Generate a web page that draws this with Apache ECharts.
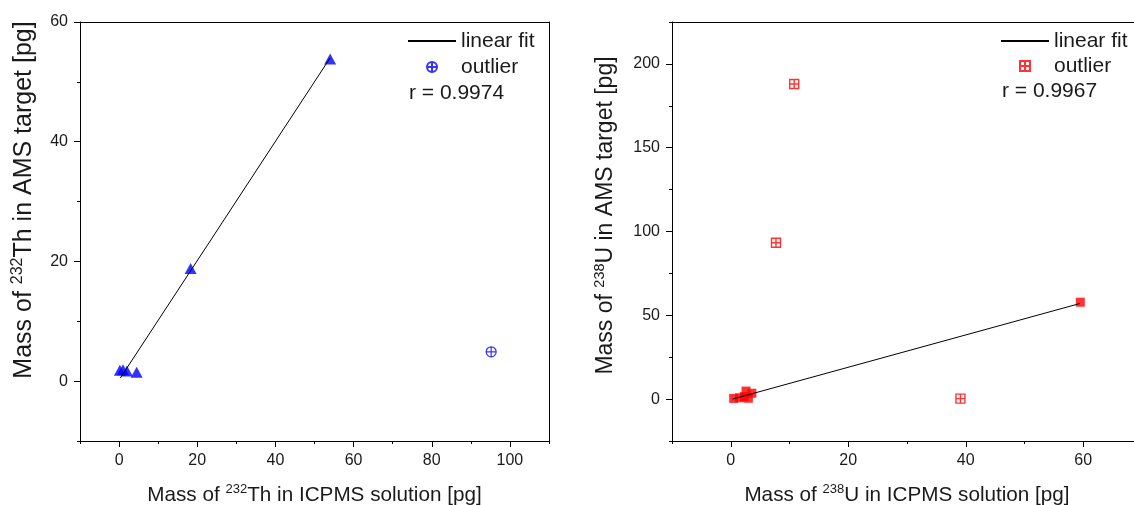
<!DOCTYPE html>
<html>
<head>
<meta charset="utf-8">
<script src="https://cdn.jsdelivr.net/npm/echarts@6/dist/echarts.min.js"></script>
<style>
html,body{margin:0;padding:0;background:#fff;}
#chart{width:1134px;height:505px;}
</style>
</head>
<body>
<div id="chart"></div>
<script>
// ---- Data: left panel (232Th) ----
var thData = [[0.2, 1.8], [1.0, 1.9], [2.0, 1.7], [4.5, 1.5], [18.3, 18.8], [54.0, 53.8]];
var thOutlier = [[95.2, 4.9]];
var thFit = [[0.3, 0.5], [54.0, 54.0]];
var thR = 'r = 0.9974';
// ---- Data: right panel (238U) ----
var uData = [[0.5, 0.4], [1.5, 0.8], [2.3, 1.5], [2.6, 4.8], [3.0, 0.5], [3.6, 3.5], [59.5, 57.8]];
var uOutlier = [[10.8, 188.0], [7.7, 93.3], [39.1, 0.3]];
var uFit = [[0.3, 0.0], [59.4, 57.0]];
var uR = 'r = 0.9967';
// ---- Tick values ----
var thXMajor = [0, 20, 40, 60, 80, 100];
var thXMinor = [-10, 10, 30, 50, 70, 90, 110];
var thYMajor = [0, 20, 40, 60];
var thYMinor = [-10, 10, 30, 50];
var uXMajor = [0, 20, 40, 60];
var uXMinor = [-10, 10, 30, 50, 70];
var uYMajor = [0, 50, 100, 150, 200];
var uYMinor = [-25, 25, 75, 125, 175, 225];

var FONT = '"Liberation Sans", Arial, sans-serif';
var TXT = '#1a1a1a';
var circleCross = 'path://M0,5 A5,5 0 1 1 10,5 A5,5 0 1 1 0,5 Z M5,0 L5,10 M0,5 L10,5';
var squareCross = 'path://M0,0 L10,0 L10,10 L0,10 Z M5,0 L5,10 M0,5 L10,5';

function makeRich(size, supSize) {
  return {
    a: {fontSize: size, fontFamily: FONT, color: TXT, lineHeight: Math.round(size * 1.17)},
    s: {fontSize: supSize, fontFamily: FONT, color: TXT, lineHeight: Math.round(supSize * 1.1), verticalAlign: 'top'}
  };
}

function majorAxis(grid, min, max, majors, pos, name, gap, rich, pad) {
  return {
    type: 'value', gridIndex: grid, min: min, max: max, position: pos,
    name: name, nameLocation: 'middle', nameGap: gap,
    nameTextStyle: {rich: rich, padding: pad || 0},
    axisLine: {show: true, onZero: false, lineStyle: {color: '#000', width: 1}},
    axisTick: {show: true, length: 6, customValues: majors, lineStyle: {color: '#000'}},
    axisLabel: {show: true, customValues: majors, fontSize: 16, fontFamily: FONT, color: TXT, margin: 12},
    splitLine: {show: false}
  };
}
function minorAxis(grid, min, max, minors, pos) {
  return {
    type: 'value', gridIndex: grid, min: min, max: max, position: pos,
    axisLine: {show: false, onZero: false},
    axisTick: {show: true, length: 3, customValues: minors, lineStyle: {color: '#000'}},
    axisLabel: {show: false},
    splitLine: {show: false}
  };
}
function frameAxis(grid, min, max, pos) {
  return {
    type: 'value', gridIndex: grid, min: min, max: max, position: pos,
    axisLine: {show: true, onZero: false, lineStyle: {color: '#000', width: 1}},
    axisTick: {show: false}, axisLabel: {show: false}, splitLine: {show: false}
  };
}

var legendText = {fontSize: 21, fontFamily: FONT, color: TXT, lineHeight: 22};

var option = {
  animation: false,
  backgroundColor: '#fff',
  grid: [
    {left: 80, right: 585, top: 22, bottom: 64, outerBoundsMode: 'none', containLabel: false},
    {left: 672, right: -8, top: 22, bottom: 64, outerBoundsMode: 'none', containLabel: false}
  ],
  xAxis: [
    majorAxis(0, -10, 110, thXMajor, 'bottom', '{a|Mass of }{s|232}{a|Th in ICPMS solution [pg]}', 42, makeRich(20.7, 13)),
    minorAxis(0, -10, 110, thXMinor, 'bottom'),
    frameAxis(0, -10, 110, 'top'),
    majorAxis(1, -10, 70, uXMajor, 'bottom', '{a|Mass of }{s|238}{a|U in ICPMS solution [pg]}', 42, makeRich(20.7, 13)),
    minorAxis(1, -10, 70, uXMinor, 'bottom'),
    frameAxis(1, -10, 70, 'top')
  ],
  yAxis: [
    majorAxis(0, -10, 60, thYMajor, 'left', '{a|Mass of }{s|232}{a|Th in AMS target [pg]}', 41, makeRich(25, 16), [0, 0, 0, 63]),
    minorAxis(0, -10, 60, thYMinor, 'left'),
    frameAxis(0, -10, 60, 'right'),
    majorAxis(1, -25, 225, uYMajor, 'left', '{a|Mass of }{s|238}{a|U in AMS target [pg]}', 53, makeRich(23, 14.5), [0, 0, 0, 32]),
    minorAxis(1, -25, 225, uYMinor, 'left'),
    frameAxis(1, -25, 225, 'right')
  ],
  legend: [
    {
      left: 407, top: 30, orient: 'vertical', padding: 0, itemGap: 4,
      itemWidth: 48, itemHeight: 10, selectedMode: false,
      data: [
        {name: 'linear fit', itemStyle: {color: 'rgba(0,0,0,0)', borderWidth: 0, opacity: 0}},
        'outlier'
      ],
      textStyle: legendText
    },
    {
      left: 1000, top: 30, orient: 'vertical', padding: 0, itemGap: 3,
      itemWidth: 48, itemHeight: 10, selectedMode: false,
      data: [
        {name: 'linear fit U', itemStyle: {color: 'rgba(0,0,0,0)', borderWidth: 0, opacity: 0}},
        'outlier U'
      ],
      formatter: function (n) { return n.replace(' U', ''); },
      textStyle: legendText
    }
  ],
  graphic: [
    {type: 'text', left: 409, top: 83, style: {text: thR, fontSize: 21, fontFamily: FONT, fill: TXT}},
    {type: 'text', left: 1002, top: 81, style: {text: uR, fontSize: 21, fontFamily: FONT, fill: TXT}}
  ],
  series: [
    {
      name: 'linear fit', type: 'line', xAxisIndex: 0, yAxisIndex: 0, data: thFit,
      symbol: 'none', color: '#000', lineStyle: {color: '#000', width: 1}, z: 3
    },
    {
      name: 'Th data', type: 'scatter', xAxisIndex: 0, yAxisIndex: 0, data: thData,
      symbol: 'triangle', symbolSize: [12, 11], itemStyle: {color: '#0000ff'}, z: 2
    },
    {
      name: 'outlier', type: 'scatter', xAxisIndex: 0, yAxisIndex: 0, data: thOutlier,
      symbol: circleCross, symbolSize: 10,
      itemStyle: {color: 'rgba(255,255,255,0)', borderColor: '#0000ff', borderWidth: 1.2}
    },
    {
      name: 'linear fit U', type: 'line', xAxisIndex: 3, yAxisIndex: 3, data: uFit,
      symbol: 'none', color: '#000', lineStyle: {color: '#000', width: 1}, z: 3
    },
    {
      name: 'U data', type: 'scatter', xAxisIndex: 3, yAxisIndex: 3, data: uData,
      symbol: 'rect', symbolSize: 9, itemStyle: {color: '#ff0000'}, z: 2
    },
    {
      name: 'outlier U', type: 'scatter', xAxisIndex: 3, yAxisIndex: 3, data: uOutlier,
      symbol: squareCross, symbolSize: 9,
      itemStyle: {color: 'rgba(255,255,255,0)', borderColor: '#ff0000', borderWidth: 1.4}
    }
  ]
};

var chart = echarts.init(document.getElementById('chart'), null, {renderer: 'canvas'});
chart.setOption(option);
</script>
</body>
</html>
